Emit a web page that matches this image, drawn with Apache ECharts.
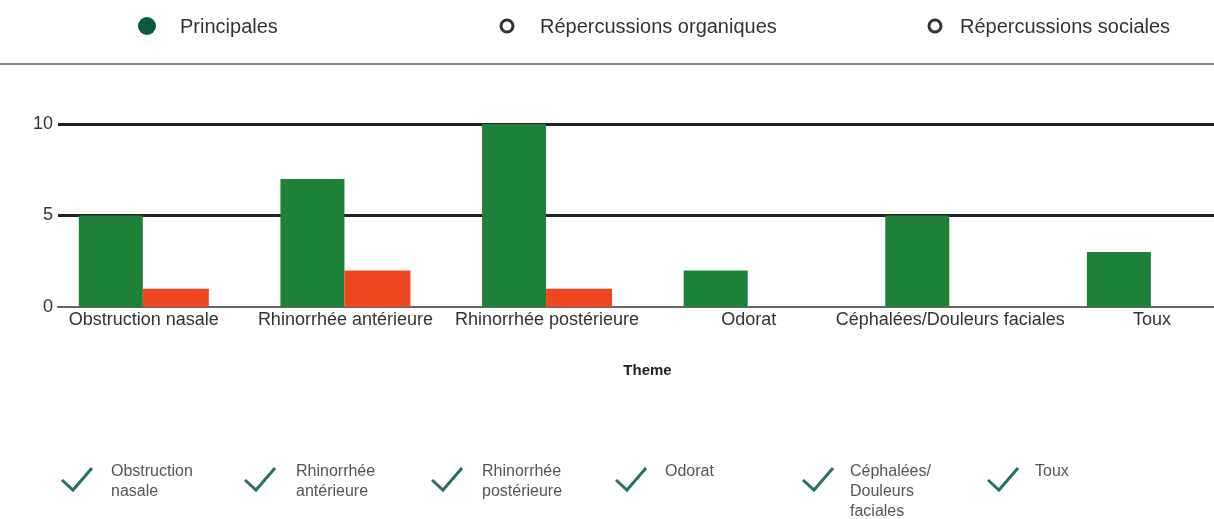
<!DOCTYPE html>
<html>
<head>
<meta charset="utf-8">
<script src="https://cdn.jsdelivr.net/npm/echarts@6/dist/echarts.min.js"></script>
<style>
html,body{margin:0;padding:0;background:#fff;}
#chart{width:1214px;height:519px;}
</style>
</head>
<body>
<div id="chart"></div>
<script>
var categories = ['Obstruction nasale', 'Rhinorrhée antérieure', 'Rhinorrhée postérieure', 'Odorat', 'Céphalées/Douleurs faciales', 'Toux'];
var greenValues = [5, 7, 10, 2, 5, 3];
var orangeValues = [1, 2, 1, 0, 0, 0];
var yTicks = [0, 5, 10];
var legendLabels = ['Principales', 'Répercussions organiques', 'Répercussions sociales'];
var checkLabels = ['Obstruction\nnasale', 'Rhinorrhée\nantérieure', 'Rhinorrhée\npostérieure', 'Odorat', 'Céphalées/\nDouleurs\nfaciales', 'Toux'];

var FONT = 'Liberation Sans, Arial, sans-serif';
var chart = echarts.init(document.getElementById('chart'));

var graphics = [];
// top radio legend
var legendX = [147, 507, 935];
var legendTextX = [180, 540, 960];
legendLabels.forEach(function (lab, i) {
  if (i === 0) {
    graphics.push({type: 'circle', shape: {cx: legendX[i], cy: 26, r: 9}, style: {fill: '#0c5a3f'}});
  } else {
    graphics.push({type: 'circle', shape: {cx: legendX[i], cy: 26, r: 6}, style: {fill: '#fff', stroke: '#333', lineWidth: 3}});
  }
  graphics.push({type: 'text', x: legendTextX[i], y: 27, style: {text: lab, fill: '#333', font: '20px ' + FONT, textVerticalAlign: 'middle'}});
});
// separator line
graphics.push({type: 'line', shape: {x1: 0, y1: 64, x2: 1214, y2: 64}, style: {stroke: '#888', lineWidth: 2}});
// bottom checklist
var checkX = [62, 245, 432, 616, 803, 988];
var checkTextX = [111, 296, 482, 665, 850, 1035];
checkLabels.forEach(function (lab, i) {
  var x = checkX[i];
  graphics.push({type: 'polyline', shape: {points: [[x, 480], [x + 11, 490], [x + 30, 468]]}, style: {stroke: '#2b6f6b', lineWidth: 3, fill: null}});
  graphics.push({type: 'text', x: checkTextX[i], y: 462, style: {text: lab, fill: '#555', font: '16px ' + FONT, lineHeight: 20, textVerticalAlign: 'top'}});
});

// bars positioned on a numeric axis by category index (the plot is cropped on the right)
var catIndex = categories.map(function (c, i) { return i; });
var greenData = catIndex.map(function (i) { return [i, greenValues[i]]; });
var orangeData = catIndex.map(function (i) { return [i, orangeValues[i]]; });

chart.setOption({
  animation: false,
  backgroundColor: '#fff',
  grid: [
    {left: 43, right: 0, top: 124, height: 183},
    {left: 58, right: 0, top: 124, height: 183}
  ],
  xAxis: [
    {
      type: 'value', gridIndex: 0, min: -0.5, max: 5.308,
      splitLine: {show: false},
      axisLine: {show: false}, axisTick: {show: false},
      axisLabel: {
        color: '#333', fontSize: 18, fontFamily: FONT, margin: 4,
        customValues: catIndex,
        formatter: function (v) { var k = Math.round(v); return categories[k] !== undefined ? categories[k] : ''; }
      },
      name: 'Theme', nameLocation: 'middle', nameGap: 56,
      nameTextStyle: {color: '#222', fontSize: 15, fontWeight: 'bold', fontFamily: FONT, padding: [0, 0, 0, 38]}
    },
    {
      type: 'category', gridIndex: 1, data: categories,
      axisLine: {show: true, lineStyle: {color: '#666', width: 2}},
      axisTick: {show: false}, axisLabel: {show: false}
    }
  ],
  yAxis: [
    {type: 'value', gridIndex: 0, min: 0, max: 10, interval: 5, show: false, splitLine: {show: false}},
    {
      type: 'value', gridIndex: 1, min: yTicks[0], max: yTicks[yTicks.length - 1], interval: 5,
      axisLine: {show: false}, axisTick: {show: false},
      axisLabel: {color: '#333', fontSize: 18, fontFamily: FONT, margin: 5},
      splitLine: {show: true, lineStyle: {color: ['rgba(0,0,0,0)', '#222', '#222'], width: 3}}
    }
  ],
  series: [
    {name: 'Principales', type: 'bar', xAxisIndex: 0, yAxisIndex: 0, data: greenData, barWidth: 64, barGap: '0%', itemStyle: {color: '#1d8237'}, z: 3},
    {name: 'Répercussions', type: 'bar', xAxisIndex: 0, yAxisIndex: 0, data: orangeData, barWidth: 66, barGap: '0%', itemStyle: {color: '#ee4620'}, z: 3}
  ],
  graphic: graphics
});
</script>
</body>
</html>
